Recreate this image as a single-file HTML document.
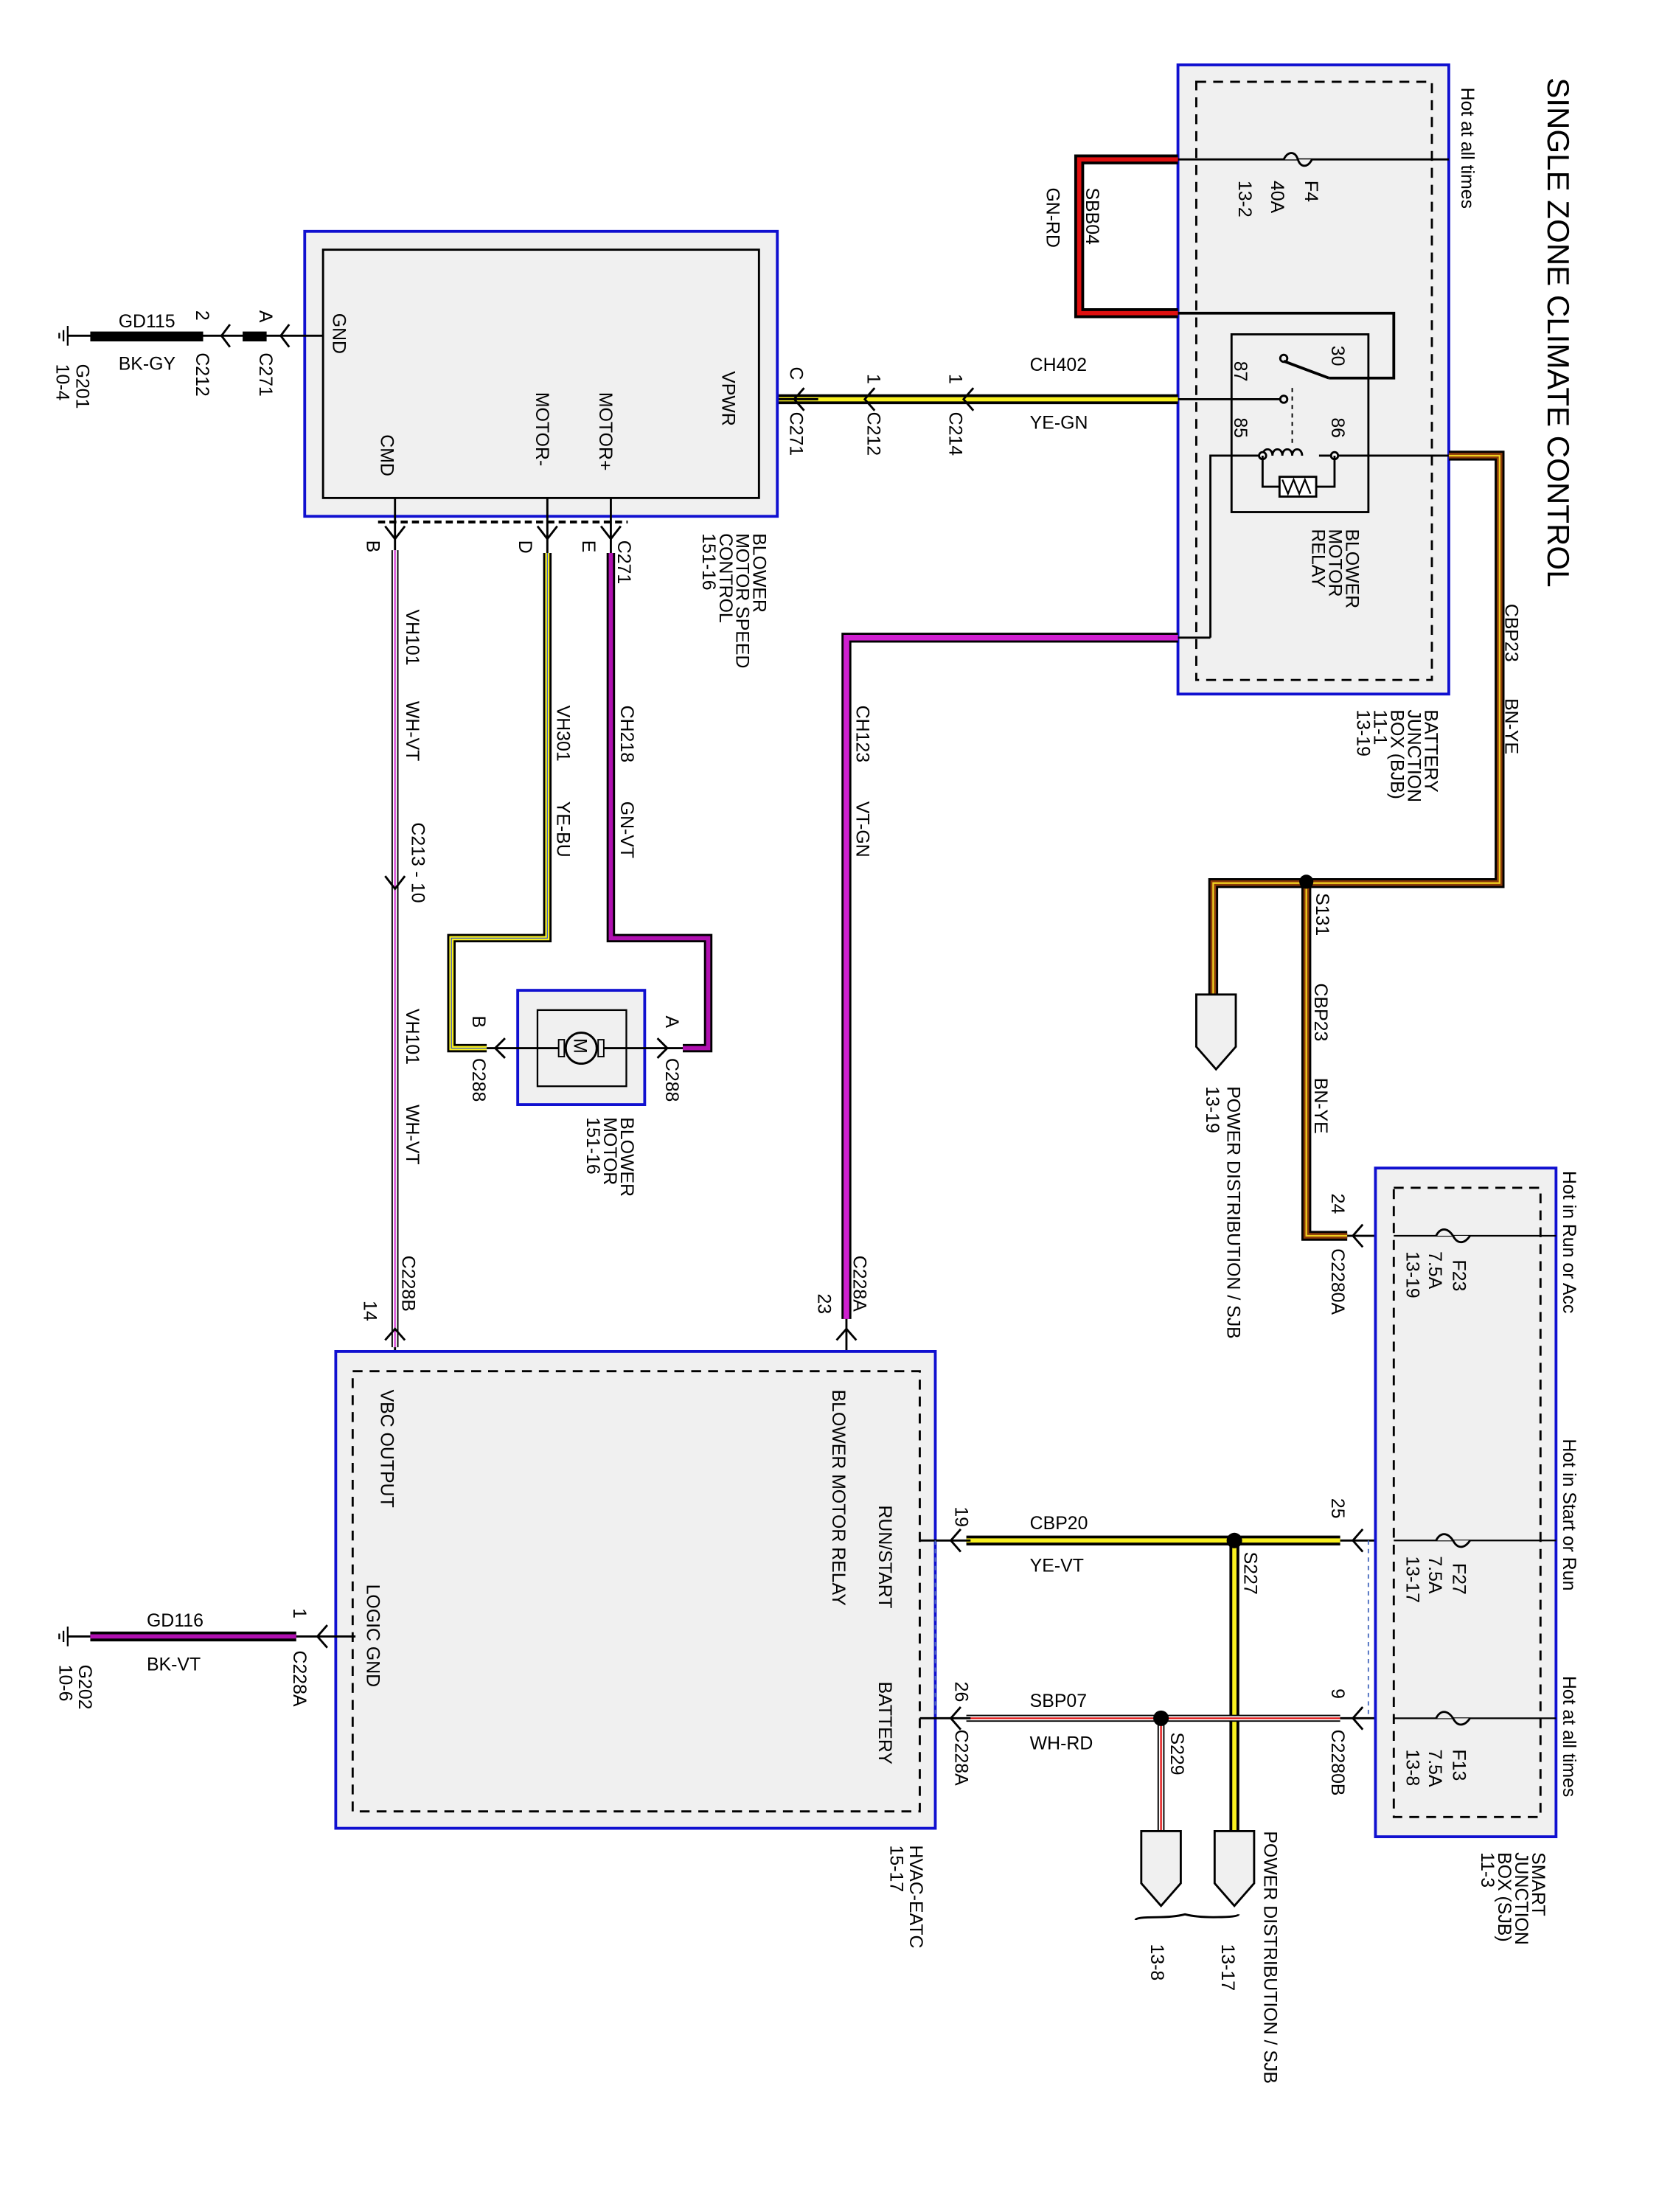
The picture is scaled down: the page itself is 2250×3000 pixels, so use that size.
<!DOCTYPE html>
<html><head><meta charset="utf-8"><style>html,body{margin:0;padding:0;background:#fff}svg{display:block}</style></head>
<body>
<svg width="2250" height="3000" viewBox="0 0 1176 1568" xmlns="http://www.w3.org/2000/svg" font-family="Liberation Sans, sans-serif" font-size="13">
<rect width="1176" height="1568" fill="#fff"/>
<!-- Title -->
<text transform="translate(1097,55) rotate(90)" font-size="22">SINGLE ZONE CLIMATE CONTROL</text>

<!-- BJB box -->
<rect x="835" y="46" width="192" height="446" fill="#f0f0f0" stroke="#1010d0" stroke-width="2"/>
<rect x="848" y="58" width="167" height="424" fill="none" stroke="#000" stroke-width="1.5" stroke-dasharray="7,5"/>
<text transform="translate(1036,62) rotate(90)">Hot at all times</text>
<line x1="835" y1="113" x2="1027" y2="113" stroke="#000" stroke-width="1.5"/>
<path d="M910,113 c3,-6 8,-6 10,0 c2,6 7,6 10,0" fill="#f0f0f0" stroke="#000" stroke-width="1.5"/>
<text transform="translate(925,128) rotate(90)">F4</text>
<text transform="translate(901,128) rotate(90)">40A</text>
<text transform="translate(878,128) rotate(90)">13-2</text>
<!-- red wire -->
<path d="M835,113 H765 V222 H835" fill="none" stroke="#000" stroke-width="7"/>
<path d="M835,113 H765 V222 H835" fill="none" stroke="#e01010" stroke-width="3"/>
<text transform="translate(770,133) rotate(90)">SBB04</text>
<text transform="translate(742,133) rotate(90)">GN-RD</text>
<path d="M835,222 H988 V268 H942" fill="none" stroke="#000" stroke-width="2"/>
<!-- relay -->
<rect x="873" y="237" width="97" height="126" fill="none" stroke="#000" stroke-width="1.5"/>
<text transform="translate(944,245) rotate(90)">30</text>
<text transform="translate(875,256) rotate(90)">87</text>
<text transform="translate(875,296) rotate(90)">85</text>
<text transform="translate(944,296) rotate(90)">86</text>
<line x1="942" y1="268" x2="910" y2="256" stroke="#000" stroke-width="2"/>
<circle cx="910" cy="254" r="2.5" fill="none" stroke="#000" stroke-width="1.5"/>
<line x1="916" y1="275" x2="916" y2="315" stroke="#000" stroke-width="1" stroke-dasharray="3,3"/>
<circle cx="910" cy="283" r="2.5" fill="none" stroke="#000" stroke-width="1.5"/>
<!-- coil -->
<path d="M858,452 V323 H895 M935,323 H1027" fill="none" stroke="#000" stroke-width="1.5"/>
<path d="M895,323 c0,-6 7,-6 7,0 c0,-6 7,-6 7,0 c0,-6 7,-6 7,0 c0,-6 7,-6 7,0" fill="none" stroke="#000" stroke-width="1.5"/>
<circle cx="895" cy="323" r="2.5" fill="#fff" stroke="#000" stroke-width="1.5"/>
<circle cx="946" cy="323" r="2.5" fill="#fff" stroke="#000" stroke-width="1.5"/>
<path d="M895,323 V345 H907 M933,345 H946 V323" fill="none" stroke="#000" stroke-width="1.5"/>
<rect x="907" y="338" width="26" height="14" fill="#fff" stroke="#000" stroke-width="1.5"/>
<path d="M909,340 l4,10 l4,-10 l4,10 l4,-10 l4,10" fill="none" stroke="#000" stroke-width="1.2"/>
<text transform="translate(954,375) rotate(90)">BLOWER</text>
<text transform="translate(942,375) rotate(90)">MOTOR</text>
<text transform="translate(930,375) rotate(90)">RELAY</text>
<text transform="translate(1010,503) rotate(90)">BATTERY</text>
<text transform="translate(998,503) rotate(90)">JUNCTION</text>
<text transform="translate(986,503) rotate(90)">BOX (BJB)</text>
<text transform="translate(974,503) rotate(90)">11-1</text>
<text transform="translate(962,503) rotate(90)">13-19</text>

<!-- BN-YE wire -->
<path d="M1027,323 H1063 V626 H860 V705" fill="none" stroke="#000" stroke-width="7"/>
<path d="M1027,323 H1063 V626 H860 V705" fill="none" stroke="#8b3a0a" stroke-width="4"/>
<path d="M1027,323 H1063 V626 H860 V705" fill="none" stroke="#f0d020" stroke-width="1.2"/>
<path d="M926,626 V876 H955" fill="none" stroke="#000" stroke-width="7"/>
<path d="M926,626 V876 H955" fill="none" stroke="#8b3a0a" stroke-width="4"/>
<path d="M926,626 V876 H955" fill="none" stroke="#f0d020" stroke-width="1.2"/>
<line x1="955" y1="876" x2="988" y2="876" stroke="#000" stroke-width="1.5"/>
<circle cx="926" cy="625" r="5" fill="#000"/>
<text transform="translate(1067,428) rotate(90)">CBP23</text>
<text transform="translate(1067,495) rotate(90)">BN-YE</text>
<text transform="translate(933,633) rotate(90)">S131</text>
<text transform="translate(932,697) rotate(90)">CBP23</text>
<text transform="translate(932,764) rotate(90)">BN-YE</text>
<text transform="translate(944,846) rotate(90)">24</text>
<text transform="translate(944,885) rotate(90)">C2280A</text>
<path d="M966,868 l-7,8 l7,8" fill="none" stroke="#000" stroke-width="1.5"/>
<!-- power dist arrow 1 -->
<path d="M848,705 H876 V742 L862,758 L848,742 Z" fill="#f0f0f0" stroke="#000" stroke-width="1.5"/>
<text transform="translate(870,770) rotate(90)">POWER DISTRIBUTION / SJB</text>
<text transform="translate(855,770) rotate(90)">13-19</text>

<!-- CH402 -->
<path d="M540,283 H835" fill="none" stroke="#000" stroke-width="7"/>
<path d="M540,283 H835" fill="none" stroke="#f8f020" stroke-width="3"/>
<line x1="835" y1="283" x2="908" y2="283" stroke="#000" stroke-width="1.5"/>
<line x1="538" y1="283" x2="580" y2="283" stroke="#000" stroke-width="1.5"/>
<path d="M570,275 l-7,8 l7,8 M620,275 l-7,8 l7,8 M690,275 l-7,8 l7,8" fill="none" stroke="#000" stroke-width="1.5"/>
<text transform="translate(730,263)" >CH402</text>
<text transform="translate(730,304)">YE-GN</text>
<text transform="translate(560,260) rotate(90)">C</text>
<text transform="translate(560,292) rotate(90)">C271</text>
<text transform="translate(615,265) rotate(90)">1</text>
<text transform="translate(615,292) rotate(90)">C212</text>
<text transform="translate(673,265) rotate(90)">1</text>
<text transform="translate(673,292) rotate(90)">C214</text>

<!-- speed control -->
<rect x="216" y="164" width="335" height="202" fill="#f0f0f0" stroke="#1010d0" stroke-width="2"/>
<rect x="229" y="177" width="309" height="176" fill="none" stroke="#000" stroke-width="1.5"/>
<text transform="translate(236,222) rotate(90)">GND</text>
<text transform="translate(512,263) rotate(90)">VPWR</text>
<text transform="translate(425,278) rotate(90)">MOTOR+</text>
<text transform="translate(380,278) rotate(90)">MOTOR-</text>
<text transform="translate(270,308) rotate(90)">CMD</text>
<text transform="translate(534,378) rotate(90)">BLOWER</text>
<text transform="translate(522,378) rotate(90)">MOTOR SPEED</text>
<text transform="translate(510,378) rotate(90)">CONTROL</text>
<text transform="translate(498,378) rotate(90)">151-16</text>
<!-- GD115 -->
<line x1="48" y1="238" x2="229" y2="238" stroke="#000" stroke-width="1.5"/>
<rect x="64" y="235" width="80" height="7" fill="#000"/>
<rect x="172" y="235" width="17" height="7" fill="#000"/>
<path d="M48,231 V245 M45,234 V242 M42,236 V240" stroke="#000" stroke-width="1.2"/>
<path d="M163,230 l-6,8 l6,8 M205,230 l-6,8 l6,8" fill="none" stroke="#000" stroke-width="1.5"/>
<text x="84" y="232">GD115</text>
<text x="84" y="262">BK-GY</text>
<text transform="translate(139,220) rotate(90)">2</text>
<text transform="translate(139,250) rotate(90)">C212</text>
<text transform="translate(184,220) rotate(90)">A</text>
<text transform="translate(184,250) rotate(90)">C271</text>
<text transform="translate(54,258) rotate(90)">G201</text>
<text transform="translate(40,258) rotate(90)">10-4</text>
<!-- dashed under box -->
<path d="M268,370 H445" stroke="#000" stroke-width="2" stroke-dasharray="5,3"/>
<path d="M273,373 l7,9 l7,-9 M381,373 l7,9 l7,-9 M426,373 l7,9 l7,-9" fill="none" stroke="#000" stroke-width="1.5"/>
<line x1="280" y1="353" x2="280" y2="390" stroke="#000" stroke-width="1.5"/>
<line x1="388" y1="353" x2="388" y2="392" stroke="#000" stroke-width="1.5"/>
<line x1="433" y1="353" x2="433" y2="392" stroke="#000" stroke-width="1.5"/>
<text transform="translate(260,383) rotate(90)">B</text>
<text transform="translate(368,383) rotate(90)">D</text>
<text transform="translate(413,383) rotate(90)">E</text>
<text transform="translate(438,383) rotate(90)">C271</text>
<!-- CMD wire WH-VT -->
<path d="M280,390 V955" stroke="#000" stroke-width="5"/>
<path d="M280,390 V955" stroke="#fff" stroke-width="3"/>
<path d="M280,390 V955" stroke="#d020d0" stroke-width="1"/>
<path d="M273,621 l7,9 l7,-9" fill="none" stroke="#000" stroke-width="1.5"/>
<text transform="translate(288,432) rotate(90)">VH101</text>
<text transform="translate(288,497) rotate(90)">WH-VT</text>
<text transform="translate(292,583) rotate(90)">C213 - 10</text>
<text transform="translate(288,715) rotate(90)">VH101</text>
<text transform="translate(288,783) rotate(90)">WH-VT</text>
<!-- MOTOR- YE-BU -->
<path d="M388,392 V665 H320 V743 H345" fill="none" stroke="#000" stroke-width="6"/>
<path d="M388,392 V665 H320 V743 H345" fill="none" stroke="#f8f020" stroke-width="3"/>
<path d="M388,392 V665 H320 V743 H345" fill="none" stroke="#3050d0" stroke-width="0.6"/>
<text transform="translate(395,500) rotate(90)">VH301</text>
<text transform="translate(395,568) rotate(90)">YE-BU</text>
<!-- MOTOR+ GN-VT -->
<path d="M433,392 V665 H502 V743 H484" fill="none" stroke="#000" stroke-width="6"/>
<path d="M433,392 V665 H502 V743 H484" fill="none" stroke="#b010b0" stroke-width="3"/>
<text transform="translate(440,500) rotate(90)">CH218</text>
<text transform="translate(440,568) rotate(90)">GN-VT</text>
<!-- blower motor -->
<rect x="367" y="702" width="90" height="81" fill="#f0f0f0" stroke="#1010d0" stroke-width="2"/>
<rect x="381" y="716" width="63" height="54" fill="none" stroke="#000" stroke-width="1.2"/>
<line x1="345" y1="743" x2="484" y2="743" stroke="#000" stroke-width="1.5"/>
<circle cx="412" cy="743" r="11" fill="#f0f0f0" stroke="#000" stroke-width="1.5"/>
<rect x="396" y="737" width="4" height="12" fill="#f0f0f0" stroke="#000"/>
<rect x="424" y="737" width="4" height="12" fill="#f0f0f0" stroke="#000"/>
<text transform="translate(407,736) rotate(90)" font-size="13">M</text>
<path d="M358,736 l-7,7 l7,7 M466,736 l7,7 l-7,7" fill="none" stroke="#000" stroke-width="1.5"/>
<text transform="translate(335,720) rotate(90)">B</text>
<text transform="translate(335,750) rotate(90)">C288</text>
<text transform="translate(472,720) rotate(90)">A</text>
<text transform="translate(472,750) rotate(90)">C288</text>
<text transform="translate(440,792) rotate(90)">BLOWER</text>
<text transform="translate(428,792) rotate(90)">MOTOR</text>
<text transform="translate(416,792) rotate(90)">151-16</text>

<!-- CH123 VT-GN -->
<path d="M835,452 H600 V935" fill="none" stroke="#000" stroke-width="7"/>
<path d="M835,452 H600 V935" fill="none" stroke="#d020d0" stroke-width="4"/>
<line x1="835" y1="452" x2="858" y2="452" stroke="#000" stroke-width="1.5"/>
<text transform="translate(607,500) rotate(90)">CH123</text>
<text transform="translate(607,568) rotate(90)">VT-GN</text>
<text transform="translate(605,890) rotate(90)">C228A</text>
<text transform="translate(580,917) rotate(90)">23</text>
<text transform="translate(285,890) rotate(90)">C228B</text>
<text transform="translate(258,922) rotate(90)">14</text>
<path d="M593,950 l7,-8 l7,8 M273,950 l7,-8 l7,8" fill="none" stroke="#000" stroke-width="1.5"/>
<line x1="600" y1="935" x2="600" y2="972" stroke="#000" stroke-width="1.5"/>
<line x1="280" y1="955" x2="280" y2="972" stroke="#000" stroke-width="1.5"/>

<!-- HVAC box -->
<rect x="238" y="958" width="425" height="338" fill="#f0f0f0" stroke="#1010d0" stroke-width="2"/>
<rect x="250" y="972" width="402" height="312" fill="none" stroke="#000" stroke-width="1.5" stroke-dasharray="7,5"/>
<text transform="translate(590,985) rotate(90)">BLOWER MOTOR RELAY</text>
<text transform="translate(270,985) rotate(90)">VBC OUTPUT</text>
<text transform="translate(623,1067) rotate(90)">RUN/START</text>
<text transform="translate(623,1192) rotate(90)">BATTERY</text>
<text transform="translate(260,1123) rotate(90)">LOGIC GND</text>
<text transform="translate(645,1308) rotate(90)">HVAC-EATC</text>
<text transform="translate(631,1308) rotate(90)">15-17</text>
<!-- GD116 -->
<line x1="48" y1="1160" x2="252" y2="1160" stroke="#000" stroke-width="1.5"/>
<path d="M64,1160 H210" stroke="#000" stroke-width="7"/>
<path d="M64,1160 H210" stroke="#b010b0" stroke-width="3"/>
<path d="M48,1153 V1167 M45,1156 V1164 M42,1158 V1162" stroke="#000" stroke-width="1.2"/>
<path d="M232,1152 l-7,8 l7,8" fill="none" stroke="#000" stroke-width="1.5"/>
<text x="104" y="1153">GD116</text>
<text x="104" y="1184">BK-VT</text>
<text transform="translate(208,1140) rotate(90)">1</text>
<text transform="translate(208,1170) rotate(90)">C228A</text>
<text transform="translate(56,1180) rotate(90)">G202</text>
<text transform="translate(42,1180) rotate(90)">10-6</text>

<!-- CBP20 YE-VT -->
<path d="M685,1092 H950" stroke="#000" stroke-width="7"/>
<path d="M685,1092 H950" stroke="#f8f020" stroke-width="3"/>
<path d="M875,1092 V1298" stroke="#000" stroke-width="7"/>
<path d="M875,1092 V1298" stroke="#f8f020" stroke-width="3"/>
<line x1="652" y1="1092" x2="688" y2="1092" stroke="#000" stroke-width="1.5"/>
<line x1="950" y1="1092" x2="988" y2="1092" stroke="#000" stroke-width="1.5"/>
<circle cx="875" cy="1092" r="5.5" fill="#000"/>
<text x="730" y="1084">CBP20</text>
<text x="730" y="1114">YE-VT</text>
<text transform="translate(882,1100) rotate(90)">S227</text>
<text transform="translate(677,1068) rotate(90)">19</text>
<text transform="translate(944,1062) rotate(90)">25</text>
<path d="M681,1084 l-7,8 l7,8 M966,1084 l-7,8 l7,8" fill="none" stroke="#000" stroke-width="1.5"/>
<!-- SBP07 WH-RD -->
<path d="M685,1218 H950" stroke="#000" stroke-width="5"/>
<path d="M685,1218 H950" stroke="#fff" stroke-width="3"/>
<path d="M685,1218 H950" stroke="#e01010" stroke-width="1.2"/>
<path d="M823,1218 V1298" stroke="#000" stroke-width="5"/>
<path d="M823,1218 V1298" stroke="#fff" stroke-width="3"/>
<path d="M823,1218 V1298" stroke="#e01010" stroke-width="1.2"/>
<line x1="652" y1="1218" x2="688" y2="1218" stroke="#000" stroke-width="1.5"/>
<line x1="950" y1="1218" x2="988" y2="1218" stroke="#000" stroke-width="1.5"/>
<circle cx="823" cy="1218" r="5.5" fill="#000"/>
<text x="730" y="1210">SBP07</text>
<text x="730" y="1240">WH-RD</text>
<text transform="translate(830,1228) rotate(90)">S229</text>
<text transform="translate(677,1192) rotate(90)">26</text>
<text transform="translate(677,1226) rotate(90)">C228A</text>
<text transform="translate(944,1197) rotate(90)">9</text>
<text transform="translate(944,1226) rotate(90)">C2280B</text>
<path d="M681,1210 l-7,8 l7,8 M966,1210 l-7,8 l7,8" fill="none" stroke="#000" stroke-width="1.5"/>
<path d="M663,1092 V1218 M970,1092 V1218" stroke="#5070c0" stroke-width="1" stroke-dasharray="3,3"/>
<!-- PD arrows -->
<path d="M861,1298 H889 V1335 L875,1351 L861,1335 Z" fill="#f0f0f0" stroke="#000" stroke-width="1.5"/>
<path d="M809,1298 H837 V1335 L823,1351 L809,1335 Z" fill="#f0f0f0" stroke="#000" stroke-width="1.5"/>
<path d="M805,1361 q0,-2 15,-2 q12,0 20,-2 q8,2 20,2 q18,0 18,-2" fill="none" stroke="#000" stroke-width="1.5"/>
<text transform="translate(896,1298) rotate(90)">POWER DISTRIBUTION / SJB</text>
<text transform="translate(866,1378) rotate(90)">13-17</text>
<text transform="translate(816,1378) rotate(90)">13-8</text>

<!-- SJB box -->
<rect x="975" y="828" width="128" height="474" fill="#f0f0f0" stroke="#1010d0" stroke-width="2"/>
<rect x="988" y="842" width="104" height="446" fill="none" stroke="#000" stroke-width="1.5" stroke-dasharray="7,5"/>
<line x1="988" y1="876" x2="1103" y2="876" stroke="#000" stroke-width="1.2"/>
<line x1="988" y1="1092" x2="1103" y2="1092" stroke="#000" stroke-width="1.2"/>
<line x1="988" y1="1218" x2="1103" y2="1218" stroke="#000" stroke-width="1.2"/>
<path d="M1018,876 c3,-6 8,-6 12,0 c3,6 8,6 12,0" fill="#f0f0f0" stroke="#000" stroke-width="1.5"/>
<path d="M1018,1092 c3,-6 8,-6 12,0 c3,6 8,6 12,0" fill="#f0f0f0" stroke="#000" stroke-width="1.5"/>
<path d="M1018,1218 c3,-6 8,-6 12,0 c3,6 8,6 12,0" fill="#f0f0f0" stroke="#000" stroke-width="1.5"/>
<text transform="translate(1030,893) rotate(90)">F23</text>
<text transform="translate(1013,887) rotate(90)">7.5A</text>
<text transform="translate(997,887) rotate(90)">13-19</text>
<text transform="translate(1030,1108) rotate(90)">F27</text>
<text transform="translate(1013,1103) rotate(90)">7.5A</text>
<text transform="translate(997,1103) rotate(90)">13-17</text>
<text transform="translate(1030,1240) rotate(90)">F13</text>
<text transform="translate(1013,1240) rotate(90)">7.5A</text>
<text transform="translate(997,1240) rotate(90)">13-8</text>
<text transform="translate(1108,830) rotate(90)">Hot in Run or Acc</text>
<text transform="translate(1108,1020) rotate(90)">Hot in Start or Run</text>
<text transform="translate(1108,1188) rotate(90)">Hot at all times</text>
<text transform="translate(1086,1313) rotate(90)">SMART</text>
<text transform="translate(1074,1313) rotate(90)">JUNCTION</text>
<text transform="translate(1062,1313) rotate(90)">BOX (SJB)</text>
<text transform="translate(1050,1313) rotate(90)">11-3</text>
</svg>
</body></html>
